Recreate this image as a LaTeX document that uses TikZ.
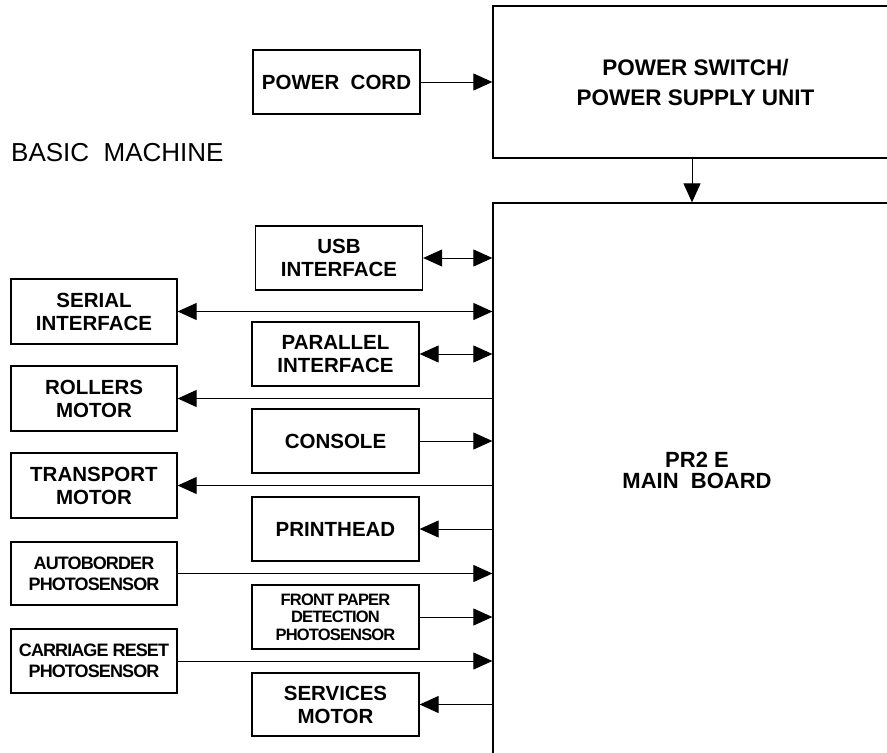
\documentclass[tikz,border=0pt]{standalone}
\usepackage{fontspec}
\setmainfont{Liberation Sans}
\newfontfamily\tightfont{Liberation Sans}[LetterSpace=-5]
\usetikzlibrary{arrows.meta}
\begin{document}
\begin{tikzpicture}[x=1pt,y=-1pt,
  box/.style={draw, line width=1.3pt, inner sep=0pt, align=center,
    font=\bfseries\fontsize{20.5}{23}\selectfont},
  lbox/.style={box, minimum width=166pt, minimum height=64pt},
  rbox/.style={box, minimum width=167pt, minimum height=64pt},
  small/.style={font=\tightfont\bfseries\fontsize{18}{21}\selectfont},
  tiny/.style={font=\tightfont\bfseries\fontsize{16.5}{17.5}\selectfont},
  big/.style={align=center, inner sep=0pt, font=\bfseries\fontsize{22.5}{30}\selectfont},
  tip/.tip={Triangle[length=19pt,width=17pt]},
  conn/.style={line width=1pt, -tip},
  biconn/.style={line width=1pt, tip-tip},
]
\useasboundingbox (0,0) rectangle (887,753);
\fill[white] (0,0) rectangle (887,753);

\node[big, font=\fontsize{26}{30}\selectfont, anchor=west] (basic) at (11,153) {BASIC\ \ MACHINE};

\node[rbox] (cord) at (336.5,82) {POWER\ \ CORD};
\node[box, big, draw, minimum width=405pt, minimum height=152pt] (psu) at (695.5,82) {POWER SWITCH/\\POWER SUPPLY UNIT};
\node[box, minimum width=407pt, minimum height=560pt] (main) at (696.5,483) {};
\node[big, font=\bfseries\fontsize{22}{21}\selectfont] (mainlbl) at (697,470) {PR2 E\\MAIN\ \ BOARD};

\node[rbox] (usb) at (339,258) {USB\\INTERFACE};
\node[lbox, minimum height=65pt] (serial) at (94,311.5) {SERIAL\\INTERFACE};
\node[rbox] (parallel) at (335.5,354) {PARALLEL\\INTERFACE};
\node[lbox, minimum height=65pt] (rollers) at (94,398.5) {ROLLERS\\MOTOR};
\node[rbox] (console) at (335.5,441) {CONSOLE};
\node[lbox, minimum height=65pt] (transport) at (94,485.5) {TRANSPORT\\MOTOR};
\node[rbox] (printhead) at (335.5,529) {PRINTHEAD};
\node[lbox, small, minimum height=63pt] (autoborder) at (94,573.5) {AUTOBORDER\\PHOTOSENSOR};
\node[rbox, tiny] (frontpaper) at (335.5,617) {FRONT PAPER\\DETECTION\\PHOTOSENSOR};
\node[lbox, small] (carriage) at (94,661) {CARRIAGE RESET\\PHOTOSENSOR};
\node[rbox, minimum height=63pt] (services) at (335.5,704.5) {SERVICES\\MOTOR};

\draw[conn] (cord.east) -- (cord.east -| psu.west);
\draw[conn] ([xshift=-3.5pt]psu.south) -- ([xshift=-3.5pt]psu.south |- main.north);

\draw[biconn] (usb.east) -- (usb.east -| main.west);
\draw[biconn] (serial.east) -- (serial.east -| main.west);
\draw[biconn] (parallel.east) -- (parallel.east -| main.west);
\draw[conn] (rollers.east -| main.west) -- (rollers.east);
\draw[conn] (console.east) -- (console.east -| main.west);
\draw[conn] (transport.east -| main.west) -- (transport.east);
\draw[conn] (printhead.east -| main.west) -- (printhead.east);
\draw[conn] (autoborder.east) -- (autoborder.east -| main.west);
\draw[conn] (frontpaper.east) -- (frontpaper.east -| main.west);
\draw[conn] (carriage.east) -- (carriage.east -| main.west);
\draw[conn] (services.east -| main.west) -- (services.east);
\end{tikzpicture}
\end{document}
